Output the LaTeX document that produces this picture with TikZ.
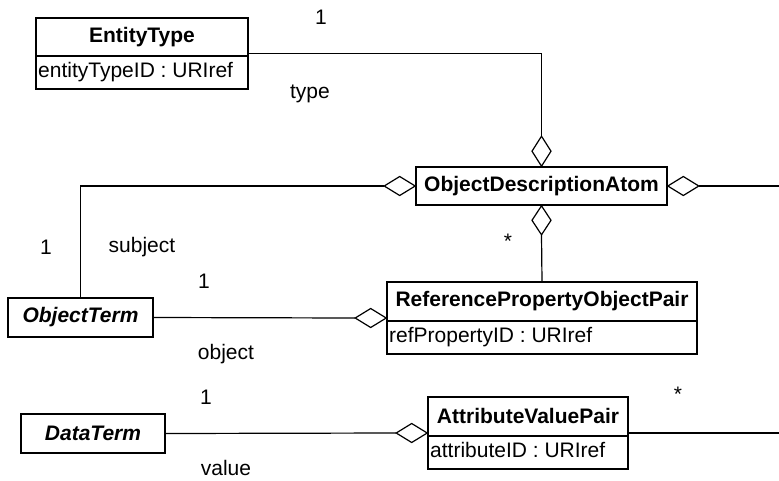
\documentclass[tikz,border=0pt]{standalone}
\usepackage{fontspec}
\setmainfont{Liberation Sans}
\usetikzlibrary{calc}
\begin{document}
\begin{tikzpicture}[x=1pt,y=-1pt,
  cls/.style={draw=black, line width=1.6pt, fill=white, inner sep=0pt},
  divline/.style={line width=1.4pt},
  ttl/.style={font=\fontsize{21}{25}\selectfont\bfseries, inner sep=0pt},
  ittl/.style={font=\fontsize{21}{25}\selectfont\bfseries\itshape, inner sep=0pt},
  attr/.style={font=\fontsize{21}{25}\selectfont, inner sep=0pt, anchor=west},
  lbl/.style={font=\fontsize{21}{25}\selectfont, inner sep=0pt},
  conn/.style={line width=1.2pt},
  diam/.style={line width=1.2pt, fill=white, line join=miter}]
\useasboundingbox (0,0) rectangle (779,480);

% classes
\node[cls, minimum width=212pt, minimum height=71pt] (et) at (142,53.5) {};
\draw[divline] (36,56) -- (248,56);
\node[ttl] (ett) at (142,37) {EntityType};
\node[attr] (eta) at (38,72) {entityTypeID : URIref};

\node[cls, minimum width=251pt, minimum height=38pt] (oda) at (541.5,186) {};
\node[ttl] (odat) at (541.5,186) {ObjectDescriptionAtom};

\node[cls, minimum width=145pt, minimum height=39pt] (ot) at (80.5,317.5) {};
\node[ittl] (ott) at (80.5,317.5) {ObjectTerm};

\node[cls, minimum width=310pt, minimum height=72pt] (rp) at (542,318) {};
\draw[divline] (387,321) -- (697,321);
\node[ttl] (rpt) at (542,301) {ReferencePropertyObjectPair};
\node[attr] (rpa) at (389,337) {refPropertyID : URIref};

\node[cls, minimum width=144pt, minimum height=39pt] (dt) at (93,433.5) {};
\node[ittl] (dtt) at (93,433.5) {DataTerm};

\node[cls, minimum width=200pt, minimum height=72pt] (av) at (528,433) {};
\draw[divline] (428,436) -- (628,436);
\node[ttl] (avt) at (528,416) {AttributeValuePair};
\node[attr] (ava) at (430,450) {attributeID : URIref};

% diamond ends
\coordinate (dtop) at ($(oda.north)+(0,-30)$);
\coordinate (dbot) at ($(oda.south)+(0,29)$);
\coordinate (dleft) at ($(oda.west)+(-31,0)$);
\coordinate (dright) at ($(oda.east)+(31,0)$);
\coordinate (drp) at ($(rp.west)+(-31,0)$);
\coordinate (dav) at ($(av.west)+(-31,0)$);
\coordinate (eR1) at (779,186);
\coordinate (eR2) at (779,433);

% connectors
\draw[conn] (et.east) -| (dtop);
\draw[conn] (dleft) -| (ot.north);
\draw[conn] (dright) -- (eR1);
\draw[conn] (rp.north) -- (dbot);
\draw[conn] (ot.east) -- (drp);
\draw[conn] (dt.east) -- (dav);
\draw[conn] (av.east) -- (eR2);

% diamonds
\draw[diam] (oda.north) -- ++(9.5,-15) -- ++(-9.5,-15) -- ++(-9.5,15) -- cycle;
\draw[diam] (oda.south) -- ++(9.5,14.5) -- ++(-9.5,14.5) -- ++(-9.5,-14.5) -- cycle;
\draw[diam] (oda.west) -- ++(-15.5,-9.5) -- ++(-15.5,9.5) -- ++(15.5,9.5) -- cycle;
\draw[diam] (oda.east) -- ++(15.5,-9.5) -- ++(15.5,9.5) -- ++(-15.5,9.5) -- cycle;
\draw[diam] (rp.west) -- ++(-15.5,-9.5) -- ++(-15.5,9.5) -- ++(15.5,9.5) -- cycle;
\draw[diam] (av.west) -- ++(-15.5,-9.5) -- ++(-15.5,9.5) -- ++(15.5,9.5) -- cycle;

% labels
\node[lbl] (l1) at (321,17) {1};
\node[lbl] (l2) at (310,94) {type};
\node[lbl] (l3) at (46,247) {1};
\node[lbl] (l4) at (142,247) {subject};
\node[lbl] (l5) at (204,281) {1};
\node[lbl] (l6) at (226,354) {object};
\node[lbl] (l7) at (508,241) {*};
\node[lbl] (l8) at (678,394) {*};
\node[lbl] (l9) at (206,397) {1};
\node[lbl] (l10) at (226,468) {value};
\end{tikzpicture}
\end{document}
